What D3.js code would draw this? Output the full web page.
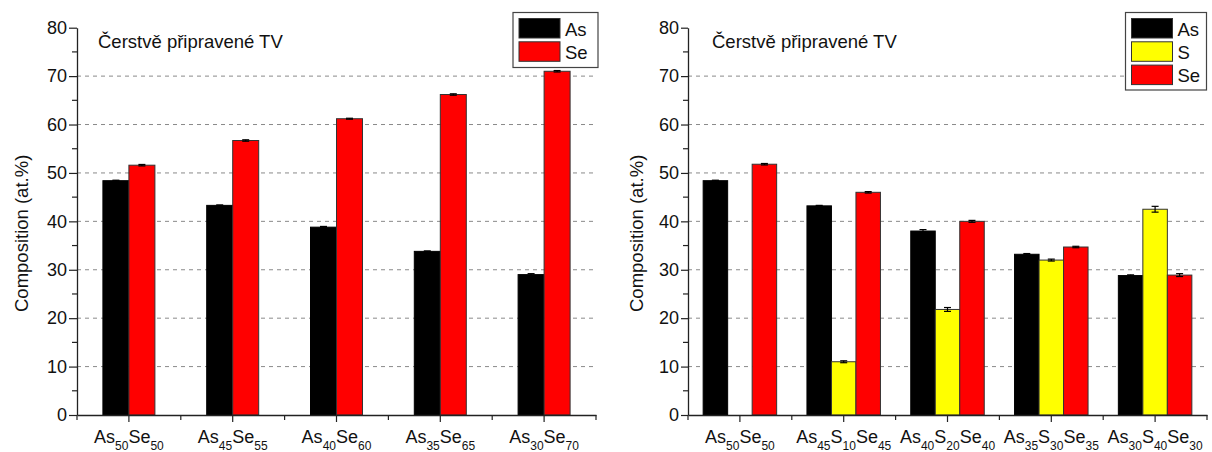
<!DOCTYPE html>
<html>
<head>
<meta charset="utf-8">
<script src="https://cdn.jsdelivr.net/npm/d3@7/dist/d3.min.js"></script>
<style>
  body { margin: 0; background: #fff; }
  svg { display: block; font-family: "Liberation Sans", Arial, sans-serif; }
</style>
</head>
<body>
<svg id="chart" width="1212" height="452"></svg>
<script>
// Composition of freshly prepared thin films (at.%)
const titleText = "Čerstvě připravené TV";
const yAxisLabel = "Composition (at.%)";
const yTicks = [0, 10, 20, 30, 40, 50, 60, 70, 80];

// Binary As–Se films
const leftCategories = ["As50Se50", "As45Se55", "As40Se60", "As35Se65", "As30Se70"];
const leftSeries = ["As", "Se"];
const leftAs = [48.4, 43.3, 38.8, 33.8, 29.0];
const leftSe = [51.6, 56.7, 61.2, 66.2, 71.0];
const leftAsErr = [0.1, 0.1, 0.15, 0.1, 0.2];
const leftSeErr = [0.15, 0.15, 0.1, 0.15, 0.15];

// Ternary As–S–Se films
const rightCategories = ["As50Se50", "As45S10Se45", "As40S20Se40", "As35S30Se35", "As30S40Se30"];
const rightSeries = ["As", "S", "Se"];
const rightAs = [48.4, 43.2, 38.0, 33.2, 28.8];
const rightS = [null, 11.0, 21.8, 32.0, 42.5];
const rightSe = [51.8, 46.0, 40.0, 34.7, 28.9];
const rightAsErr = [0.1, 0.1, 0.3, 0.15, 0.15];
const rightSErr = [null, 0.2, 0.4, 0.2, 0.6];
const rightSeErr = [0.15, 0.15, 0.2, 0.15, 0.3];

const colors = { As: "#000000", S: "#ffff00", Se: "#ff0000" };

const svg = d3.select("#chart");

function drawPanel(opt) {
  const g = svg.append("g");
  const x = d3.scaleBand().domain(opt.categories).range([opt.x0, opt.x1]).paddingInner(0).paddingOuter(0);
  const y = d3.scaleLinear().domain([0, 80]).range([opt.yBottom, opt.yTop]);
  const sub = d3.scaleBand().domain(opt.series).range([-opt.groupW / 2, opt.groupW / 2]);

  // dashed grid
  g.append("g").selectAll("line")
    .data(yTicks.filter(t => t > 0 && t < 80))
    .join("line")
    .attr("x1", opt.x0).attr("x2", opt.x1)
    .attr("y1", d => y(d)).attr("y2", d => y(d))
    .attr("stroke", "#8a8a8a").attr("stroke-width", 1)
    .attr("stroke-dasharray", "4,4");

  // bars
  const rows = [];
  opt.categories.forEach((c, i) => {
    opt.series.forEach(s => {
      const v = opt.values[s][i];
      if (v == null) return;
      rows.push({ c, s, v, e: opt.errors[s][i] });
    });
  });
  const cx = d => x(d.c) + x.bandwidth() / 2 + sub(d.s);
  g.append("g").selectAll("rect")
    .data(rows).join("rect")
    .attr("x", d => cx(d))
    .attr("y", d => y(d.v))
    .attr("width", sub.bandwidth())
    .attr("height", d => y(0) - y(d.v))
    .attr("fill", d => colors[d.s])
    .attr("stroke", d => d.s === "As" ? "#000" : "#333")
    .attr("stroke-width", 1);

  // error bars
  const eg = g.append("g").attr("stroke", "#000").attr("stroke-width", 1.2);
  rows.forEach(d => {
    const mx = cx(d) + sub.bandwidth() / 2;
    const hi = y(d.v + d.e), lo = y(d.v - d.e);
    eg.append("line").attr("x1", mx).attr("x2", mx).attr("y1", hi).attr("y2", lo);
    eg.append("line").attr("x1", mx - 3.5).attr("x2", mx + 3.5).attr("y1", hi).attr("y2", hi);
    eg.append("line").attr("x1", mx - 3.5).attr("x2", mx + 3.5).attr("y1", lo).attr("y2", lo);
  });

  // y axis with major and minor ticks
  const yAxis = d3.axisLeft(y).tickValues(yTicks).tickSize(opt.tickLen).tickPadding(2).tickSizeOuter(0);
  const ya = g.append("g").attr("transform", `translate(${opt.x0},0)`).call(yAxis);
  ya.select(".domain").attr("stroke", "#222").attr("stroke-width", 1.3);
  ya.selectAll(".tick line").attr("stroke", "#222").attr("stroke-width", 1.2);
  ya.selectAll(".tick text").attr("font-size", 18).attr("fill", "#111")
    .attr("font-family", "Liberation Sans, Arial, sans-serif");
  const minorY = d3.range(5, 80, 10);
  g.append("g").selectAll("line").data(minorY).join("line")
    .attr("x1", opt.x0 - 5).attr("x2", opt.x0)
    .attr("y1", d => y(d)).attr("y2", d => y(d))
    .attr("stroke", "#222").attr("stroke-width", 1.2);

  // x axis
  const xAxis = d3.axisBottom(x).tickSize(7).tickSizeOuter(0).tickFormat("");
  const xa = g.append("g").attr("transform", `translate(0,${opt.yBottom})`).call(xAxis);
  xa.select(".domain").attr("stroke", "#222").attr("stroke-width", 1.3);
  xa.selectAll(".tick line").attr("stroke", "#222").attr("stroke-width", 1.2);
  const bounds = opt.categories.map(c => x(c)).concat([opt.x1]);
  g.append("g").selectAll("line").data(bounds).join("line")
    .attr("x1", d => d).attr("x2", d => d)
    .attr("y1", opt.yBottom).attr("y2", opt.yBottom + 5)
    .attr("stroke", "#222").attr("stroke-width", 1.2);

  // category labels with subscripted stoichiometry
  opt.categories.forEach(c => {
    const t = g.append("text")
      .attr("x", x(c) + x.bandwidth() / 2)
      .attr("y", opt.yBottom + 28)
      .attr("text-anchor", "middle")
      .attr("font-size", 18).attr("fill", "#111");
    const parts = c.match(/[A-Z][a-z]?|\d+/g);
    let lowered = false;
    parts.forEach(p => {
      const isNum = /^\d+$/.test(p);
      let dy = 0;
      if (isNum && !lowered) { dy = 7; lowered = true; }
      else if (!isNum && lowered) { dy = -7; lowered = false; }
      const ts = t.append("tspan").attr("dy", dy).text(p);
      if (isNum) ts.attr("font-size", 12);
    });
  });

  // y axis title
  g.append("text")
    .attr("transform", `translate(${opt.labelX},${(opt.yTop + opt.yBottom) / 2 + 12}) rotate(-90)`)
    .attr("text-anchor", "middle")
    .attr("font-size", 18.5).attr("fill", "#111")
    .text(yAxisLabel);

  // panel title
  g.append("text")
    .attr("x", opt.titleX).attr("y", 48)
    .attr("font-size", 18.5).attr("fill", "#111")
    .text(titleText);

  // legend
  const lg = g.append("g");
  lg.append("rect")
    .attr("x", opt.legX).attr("y", 12.5)
    .attr("width", opt.legW).attr("height", 6 + opt.series.length * 22.5 + 4)
    .attr("fill", "#fff").attr("stroke", "#444").attr("stroke-width", 1.2);
  opt.series.forEach((s, i) => {
    const top = 17 + i * 23.3;
    lg.append("rect")
      .attr("x", opt.legX + 6).attr("y", top + 1.5)
      .attr("width", 41).attr("height", 19.5)
      .attr("fill", colors[s]).attr("stroke", "#333").attr("stroke-width", 1);
    lg.append("text")
      .attr("x", opt.legX + 52).attr("y", top + 18.5)
      .attr("font-size", 18.5).attr("fill", "#111")
      .text(s);
  });
}

drawPanel({
  categories: leftCategories, series: leftSeries,
  values: { As: leftAs, Se: leftSe },
  errors: { As: leftAsErr, Se: leftSeErr },
  x0: 77, x1: 596, yTop: 27.7, yBottom: 415, groupW: 52, tickLen: 8,
  labelX: 27.5, titleX: 98, legX: 513, legW: 85
});

drawPanel({
  categories: rightCategories, series: rightSeries,
  values: { As: rightAs, S: rightS, Se: rightSe },
  errors: { As: rightAsErr, S: rightSErr, Se: rightSeErr },
  x0: 688, x1: 1207, yTop: 27.7, yBottom: 415, groupW: 73.5, tickLen: 7,
  labelX: 643, titleX: 712, legX: 1125.5, legW: 81
});
</script>
</body>
</html>
